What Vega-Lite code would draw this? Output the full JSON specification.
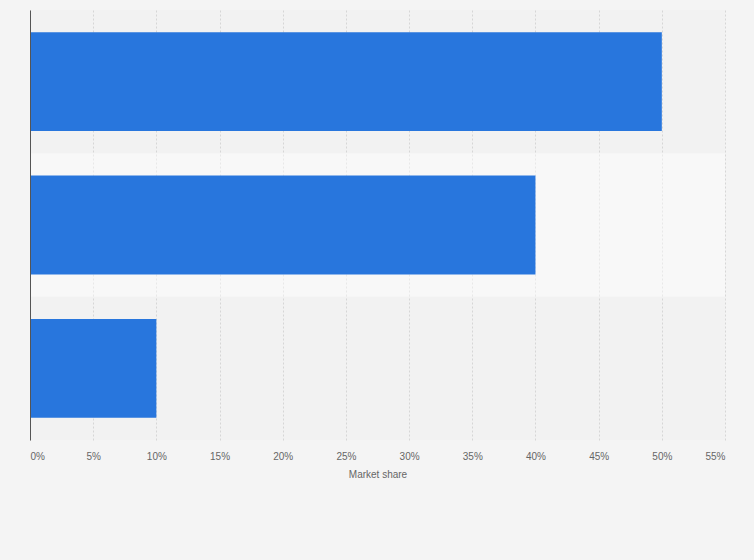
{
  "$schema": "https://vega.github.io/schema/vega-lite/v6.json",
  "width": 695,
  "height": 430,
  "autosize": "none",
  "padding": {"left": 30, "top": 10, "right": 29, "bottom": 120},
  "background": "#f4f4f4",
  "config": {
    "view": {"stroke": null, "fill": "#f2f2f2"},
    "font": "Liberation Sans"
  },
  "data": {
    "values": [
      {"category": "A", "share": 50},
      {"category": "B", "share": 40},
      {"category": "C", "share": 10}
    ]
  },
  "resolve": {"scale": {"y": "independent"}},
  "layer": [
    {
      "transform": [{"filter": "datum.category === 'B'"}],
      "mark": {"type": "rect", "fill": "#ffffff", "opacity": 0.45},
      "encoding": {
        "y": {
          "field": "category",
          "type": "nominal",
          "sort": null,
          "scale": {"domain": ["A", "B", "C"], "paddingInner": 0, "paddingOuter": 0},
          "axis": null
        },
        "x": {"datum": 0, "type": "quantitative"},
        "x2": {"datum": 55}
      }
    },
    {
      "mark": {"type": "bar", "color": "#2876dd"},
      "encoding": {
        "y": {
          "field": "category",
          "type": "nominal",
          "sort": null,
          "scale": {"paddingInner": 0.31, "paddingOuter": 0.155},
          "axis": {
            "title": null,
            "labels": false,
            "ticks": false,
            "grid": false,
            "domain": true,
            "domainColor": "#555555",
            "domainWidth": 1,
            "zindex": 1
          }
        },
        "x": {
          "field": "share",
          "type": "quantitative",
          "scale": {"domain": [0, 55], "nice": false},
          "axis": {
            "title": "Market share",
            "values": [0, 5, 10, 15, 20, 25, 30, 35, 40, 45, 50, 55],
            "labelExpr": "datum.value + '%'",
            "labelFlush": true,
            "labelFontSize": 10,
            "labelColor": "#666666",
            "labelPadding": 11,
            "ticks": false,
            "domain": false,
            "grid": true,
            "gridColor": "#d6d6d6",
            "gridDash": [2, 2],
            "titleFontSize": 10,
            "titleFontWeight": "normal",
            "titleColor": "#666666",
            "titlePadding": 8
          }
        }
      }
    }
  ]
}
